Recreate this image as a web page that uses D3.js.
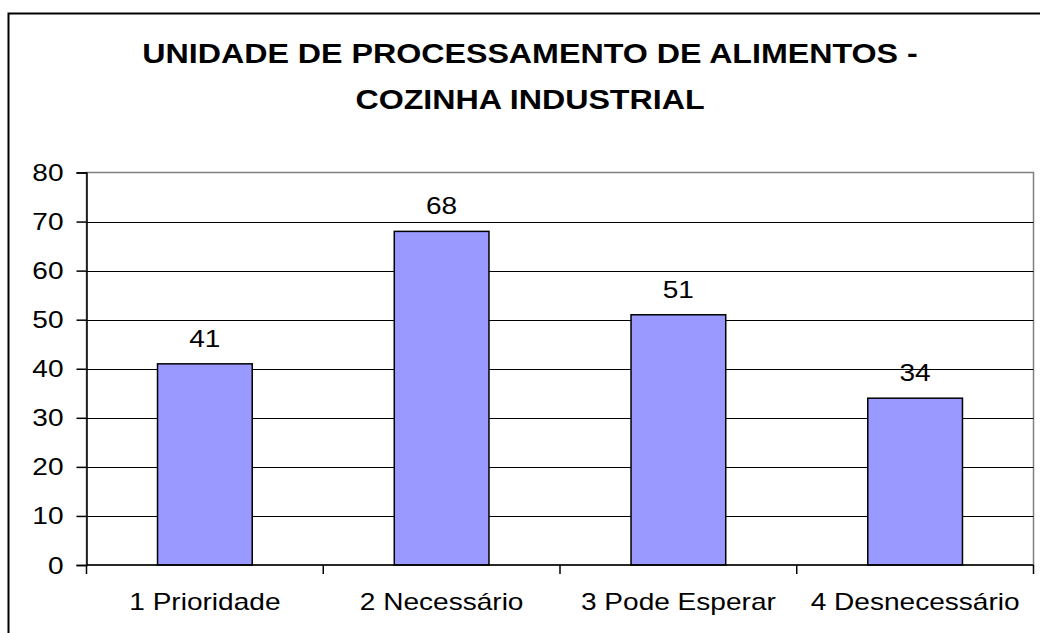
<!DOCTYPE html>
<html lang="pt">
<head>
<meta charset="UTF-8">
<title>Unidade de Processamento de Alimentos - Cozinha Industrial</title>
<script src="https://d3js.org/d3.v7.min.js"></script>
<style>
    body { margin: 0; background: #fff; }
    svg { display: block; font-family: 'Liberation Sans', Arial, sans-serif; }
</style>
</head>
<body>
<div id="chart"></div>
<script>
    // chart data
    const categories = ["1 Prioridade", "2 Necessário", "3 Pode Esperar", "4 Desnecessário"];
    const values = [41, 68, 51, 34];
    const yTicks = [0, 10, 20, 30, 40, 50, 60, 70, 80];
    const titleLines = ["UNIDADE DE PROCESSAMENTO DE ALIMENTOS -", "COZINHA INDUSTRIAL"];

    const W = 1040, H = 633;
    const plot = {left: 86.5, top: 172.5, right: 1033.5, bottom: 565};
    const stretch = 1.22; // text in the original is wider than tall
    const fontSize = 23;

    const svg = d3.select("#chart").append("svg")
        .attr("width", W)
        .attr("height", H);

    // outer frame (runs off right and bottom edge)
    svg.append("rect")
        .attr("x", 8.5).attr("y", 13.5)
        .attr("width", W + 20).attr("height", H + 20)
        .attr("fill", "none")
        .attr("stroke", "#000")
        .attr("stroke-width", 2);

    // title
    titleLines.forEach((t, i) => {
        svg.append("text")
            .attr("transform", `translate(530,${63 + i * 46}) scale(1.15,1)`)
            .attr("text-anchor", "middle")
            .attr("font-size", 28)
            .attr("font-weight", "bold")
            .attr("fill", "#000")
            .text(t);
    });

    const x = d3.scaleBand()
        .domain(categories)
        .range([plot.left, plot.right])
        .paddingInner(0.6)
        .paddingOuter(0.3);

    const y = d3.scaleLinear()
        .domain([0, 80])
        .range([plot.bottom, plot.top]);

    // plot area border
    svg.append("rect")
        .attr("x", plot.left).attr("y", plot.top)
        .attr("width", plot.right - plot.left)
        .attr("height", plot.bottom - plot.top)
        .attr("fill", "none")
        .attr("stroke", "#808080")
        .attr("stroke-width", 1.5);

    // gridlines
    svg.append("g")
        .selectAll("line")
        .data(yTicks.filter(d => d > 0 && d < 80))
        .join("line")
        .attr("x1", plot.left).attr("x2", plot.right)
        .attr("y1", d => Math.round(y(d)) + 0.5)
        .attr("y2", d => Math.round(y(d)) + 0.5)
        .attr("stroke", "#000")
        .attr("stroke-width", 1.2);

    // bars
    svg.append("g")
        .selectAll("rect")
        .data(values)
        .join("rect")
        .attr("x", (d, i) => x(categories[i]))
        .attr("y", d => y(d))
        .attr("width", x.bandwidth())
        .attr("height", d => y(0) - y(d))
        .attr("fill", "#9999ff")
        .attr("stroke", "#000")
        .attr("stroke-width", 1.5);

    // value labels
    svg.append("g")
        .selectAll("text")
        .data(values)
        .join("text")
        .attr("transform", (d, i) => `translate(${x(categories[i]) + x.bandwidth() / 2},${y(d) - 17}) scale(${stretch},1)`)
        .attr("text-anchor", "middle")
        .attr("font-size", fontSize)
        .attr("fill", "#000")
        .text(d => d);

    // y axis
    const yAxis = svg.append("g")
        .attr("transform", `translate(${plot.left},0)`)
        .call(d3.axisLeft(y).tickValues(yTicks).tickSize(10).tickPadding(0).tickFormat(d3.format("d")));
    yAxis.select(".domain").attr("stroke", "#000").attr("stroke-width", 1.5);
    yAxis.selectAll(".tick line").attr("stroke", "#000").attr("stroke-width", 1.5);
    yAxis.selectAll(".tick text")
        .attr("x", null).attr("dy", null)
        .attr("transform", `translate(-23,8) scale(${stretch},1)`)
        .attr("font-size", fontSize)
        .attr("font-family", "'Liberation Sans', Arial, sans-serif")
        .attr("fill", "#000");

    // x axis
    svg.append("line")
        .attr("x1", plot.left).attr("x2", plot.right)
        .attr("y1", plot.bottom).attr("y2", plot.bottom)
        .attr("stroke", "#000").attr("stroke-width", 1.5);

    const step = x.step();
    const boundaries = d3.range(categories.length + 1).map(i => plot.left + i * step);
    svg.append("g")
        .selectAll("line")
        .data(boundaries)
        .join("line")
        .attr("x1", d => d).attr("x2", d => d)
        .attr("y1", plot.bottom).attr("y2", plot.bottom + 9)
        .attr("stroke", "#000").attr("stroke-width", 1.5);

    svg.append("g")
        .selectAll("text")
        .data(categories)
        .join("text")
        .attr("transform", d => `translate(${x(d) + x.bandwidth() / 2},610) scale(${stretch},1)`)
        .attr("text-anchor", "middle")
        .attr("font-size", fontSize)
        .attr("fill", "#000")
        .text(d => d);
</script>
</body>
</html>
